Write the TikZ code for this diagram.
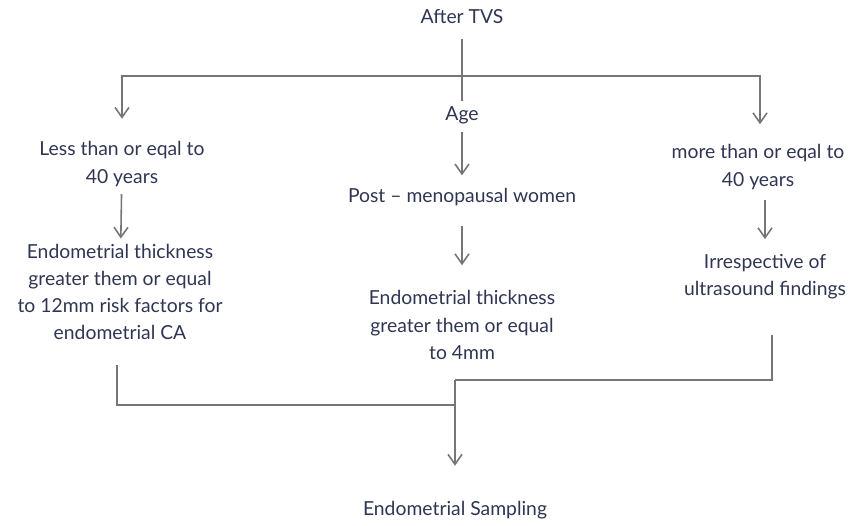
\documentclass[tikz,border=0pt]{standalone}
\usepackage{fontspec}
\setmainfont{Lato}
\usetikzlibrary{arrows.meta}
\definecolor{inkblue}{HTML}{2F3552}
\definecolor{linegray}{HTML}{767676}
\tikzset{
	label/.style={text=inkblue, align=center, font=\fontsize{11}{15.5}\selectfont, inner sep=0pt},
	link/.style={draw=linegray, line width=0.9pt},
	flow/.style={link, -{Straight Barb[length=2mm,width=2.8mm]}}
}

\begin{document}
\begin{tikzpicture}
		%%%%% START %%%%%
		\useasboundingbox (0, 0) rectangle (17.1, 10.52);
		
		\node[label] (tvs) at (9.24, 10.18) {After TVS};
		\node[label] (age) at (9.24, 8.22) {Age};
		
		% left branch
		\node[label] (less) at (2.44, 7.24) {Less than or eqal to\\40 years};
		\node[label] (thickL) at (2.40, 4.68) {Endometrial thickness\\greater them or equal\\to 12mm risk factors for\\endometrial CA};
		
		% middle branch
		\node[label] (post) at (9.24, 6.58) {Post -- menopausal women};
		\node[label] (thickM) at (9.24, 4.02) {Endometrial thickness\\greater them or equal\\to 4mm};
		
		% right branch
		\node[label] (more) at (15.16, 7.18) {more than or eqal to\\40 years};
		\node[label] (irr) at (15.30, 4.98) {Irrespective of\\ultrasound findings};
		
		\node[label] (samp) at (9.10, 0.32) {Endometrial Sampling};
		
		\coordinate (hub) at (9.24, 9.0);
		\coordinate (mergeL) at (9.10, 2.42);
		\coordinate (mergeR) at (9.10, 2.92);
		
		\draw[link, shorten <=0.3cm, shorten >=0.1cm] (tvs) -- (age);
		\draw[flow, shorten >=0.45cm] (hub) -| (less.north);
		\draw[flow, shorten >=0.4cm] (hub) -| ([xshift=0.04cm]more.north);
		
		\draw[flow, shorten <=0.15cm, shorten >=0.1cm] (less) -- (thickL);
		\draw[flow, shorten <=0.15cm, shorten >=0.25cm] (age) -- (post);
		\draw[flow, shorten <=0.4cm, shorten >=0.5cm] (post) -- (thickM);
		\draw[flow, shorten <=0.2cm, shorten >=0.3cm] ([xshift=0.14cm]more.south) -- (irr);
		
		\draw[link, shorten <=0.5cm] ([xshift=-0.06cm]thickL.south) |- (mergeL);
		\draw[link, shorten <=0.7cm] ([xshift=0.14cm]irr.south) |- (mergeR);
		\draw[flow, shorten >=0.7cm] (mergeR) -- (samp);
		%%%%% END %%%%%
	\end{tikzpicture}
\end{document}
